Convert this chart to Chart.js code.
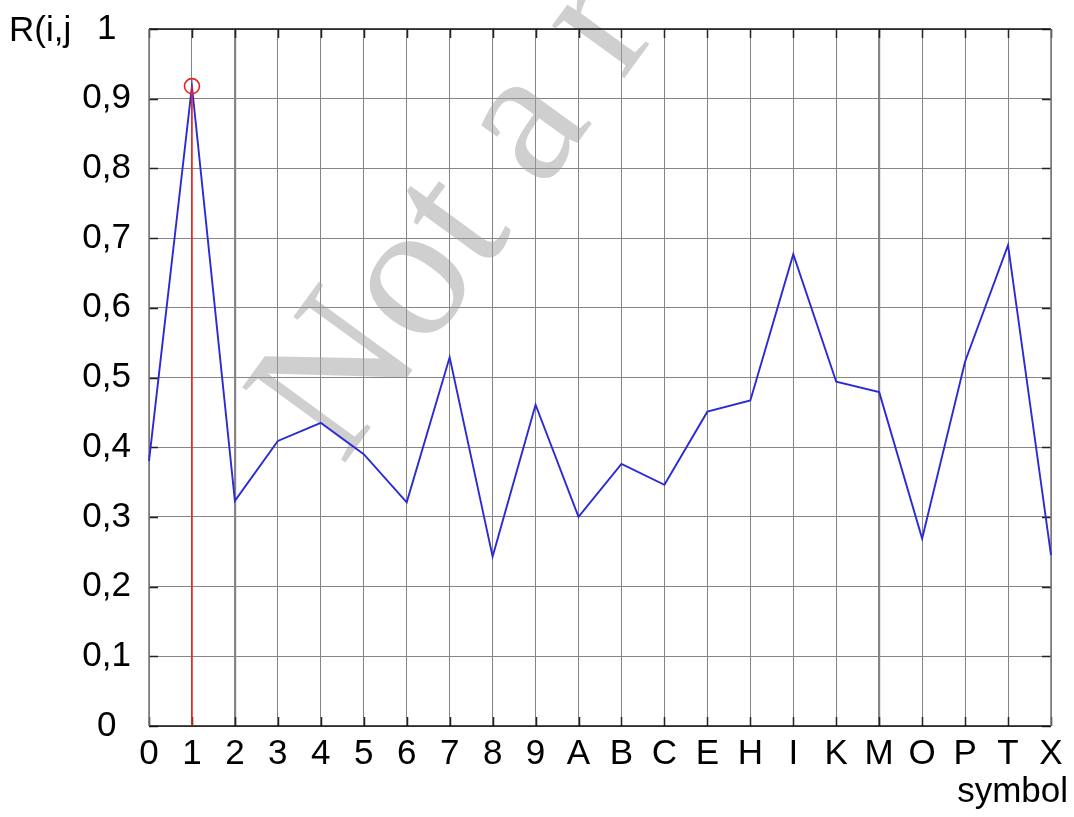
<!DOCTYPE html>
<html>
<head>
<meta charset="utf-8">
<title>R(i,j) by symbol</title>
<script src="https://cdn.jsdelivr.net/npm/chart.js@4/dist/chart.umd.min.js"></script>
<style>
  html, body { margin: 0; padding: 0; background: #ffffff; }
  #wrap { width: 1074px; height: 817px; }
</style>
</head>
<body>
<div id="wrap"><canvas id="chart" width="1074" height="817"></canvas></div>
<script>
// Symbols along the horizontal axis
const symbols = ['0','1','2','3','4','5','6','7','8','9','A','B','C','E','H','I','K','M','O','P','T','X'];
// Correlation R(i,j) of each symbol against the reference
const correlation = [0.38, 0.918, 0.323, 0.409, 0.435, 0.39, 0.321, 0.529, 0.243, 0.461, 0.300,
                     0.376, 0.346, 0.451, 0.467, 0.677, 0.494, 0.479, 0.269, 0.523, 0.690, 0.245];
// Vertical tick labels (decimal comma)
const yTickLabels = ['0','0,1','0,2','0,3','0,4','0,5','0,6','0,7','0,8','0,9','1'];
const yTitle = 'R(i,j';
const xTitle = 'symbol';
const watermarkText = 'Not a r';

// best match marked with a stem and a circle
const best = correlation.indexOf(Math.max(...correlation));
const stem = [{ x: symbols[best], y: 0 }, { x: symbols[best], y: correlation[best] }];

const FONT = "'Liberation Sans', Arial, Helvetica, sans-serif";
const FONT_SIZE = 35;
Chart.defaults.font.family = FONT;
Chart.defaults.color = '#000000';

const framePlugin = {
  id: 'frame',
  beforeDatasetsDraw(chart) {
    const { ctx, chartArea: a, scales: { x, y } } = chart;
    ctx.save();
    // watermark
    ctx.translate(342, 467);
    ctx.rotate(-54 * Math.PI / 180);
    ctx.font = "195px 'Liberation Serif', 'Times New Roman', serif";
    ctx.fillStyle = 'rgba(160,160,160,0.5)';
    ctx.textBaseline = 'alphabetic';
    ctx.fillText(watermarkText, 0, 0);
    ctx.restore();

    ctx.save();
    // inward tick marks
    ctx.strokeStyle = '#222222';
    ctx.lineWidth = 1.5;
    const tl = 9;
    ctx.beginPath();
    symbols.forEach((s, i) => {
      const px = Math.round(x.getPixelForValue(i)) + 0.5;
      ctx.moveTo(px, a.top); ctx.lineTo(px, a.top + tl);
      ctx.moveTo(px, a.bottom); ctx.lineTo(px, a.bottom - tl);
    });
    yTickLabels.forEach((t, i) => {
      const py = Math.round(y.getPixelForValue(i / 10)) + 0.5;
      ctx.moveTo(a.left, py); ctx.lineTo(a.left + tl, py);
      ctx.moveTo(a.right, py); ctx.lineTo(a.right - tl, py);
    });
    ctx.stroke();
    // frame
    ctx.lineWidth = 1.5;
    ctx.strokeStyle = '#111111';
    ctx.beginPath();
    ctx.moveTo(a.left, a.top); ctx.lineTo(a.right, a.top);
    ctx.moveTo(a.left, a.bottom); ctx.lineTo(a.right, a.bottom);
    ctx.stroke();
    ctx.strokeStyle = '#777777';
    ctx.beginPath();
    ctx.moveTo(a.left, a.top); ctx.lineTo(a.left, a.bottom);
    ctx.moveTo(a.right, a.top); ctx.lineTo(a.right, a.bottom);
    ctx.stroke();
    ctx.restore();
  },
  afterDraw(chart) {
    const { ctx, scales: { y } } = chart;
    ctx.save();
    ctx.font = FONT_SIZE + 'px ' + FONT;
    ctx.fillStyle = '#000000';
    ctx.textBaseline = 'alphabetic';
    ctx.textAlign = 'left';
    ctx.fillText(yTitle, 9, y.getPixelForValue(1) + 12);
    ctx.textAlign = 'right';
    ctx.fillText(xTitle, 1068, 802);
    ctx.restore();
  }
};

new Chart(document.getElementById('chart'), {
  type: 'line',
  data: {
    labels: symbols,
    datasets: [
      {
        label: 'best',
        data: stem,
        borderColor: '#e8221e',
        borderWidth: 1.6,
        pointRadius: ctx => ctx.dataIndex === 1 ? 7.5 : 0,
        pointBorderColor: '#e8221e',
        pointBorderWidth: 1.6,
        pointBackgroundColor: 'rgba(0,0,0,0)',
        order: 0
      },
      {
        label: 'R(i,j)',
        data: correlation,
        borderColor: '#2b2bd6',
        borderWidth: 1.9,
        pointRadius: 0,
        tension: 0,
        order: 1
      }
    ]
  },
  options: {
    responsive: false,
    animation: false,
    layout: { padding: { left: 0, top: 29, right: 23, bottom: 0 } },
    plugins: { legend: { display: false }, tooltip: { enabled: false } },
    scales: {
      x: {
        type: 'category',
        offset: false,
        grid: {
          color: '#858585',
          lineWidth: ctx => (ctx.index === 2 || ctx.index === 17) ? 2.2 : 1,
          drawTicks: false
        },
        border: { display: false },
        ticks: { font: { size: FONT_SIZE }, padding: 7, maxRotation: 0, autoSkip: false, color: '#000' },
        afterFit(scale) { scale.height = 91; scale.paddingLeft = 0; scale.paddingRight = 0; }
      },
      y: {
        min: 0,
        max: 1,
        grid: { color: '#858585', lineWidth: 1, drawTicks: false },
        border: { display: false },
        ticks: {
          stepSize: 0.1,
          font: { size: FONT_SIZE },
          padding: 18,
          crossAlign: 'center',
          color: '#000',
          callback: (v, i) => yTickLabels[i]
        },
        afterFit(scale) { scale.width = 149; scale.paddingTop = 0; scale.paddingBottom = 0; }
      }
    }
  },
  plugins: [framePlugin]
});
</script>
</body>
</html>
